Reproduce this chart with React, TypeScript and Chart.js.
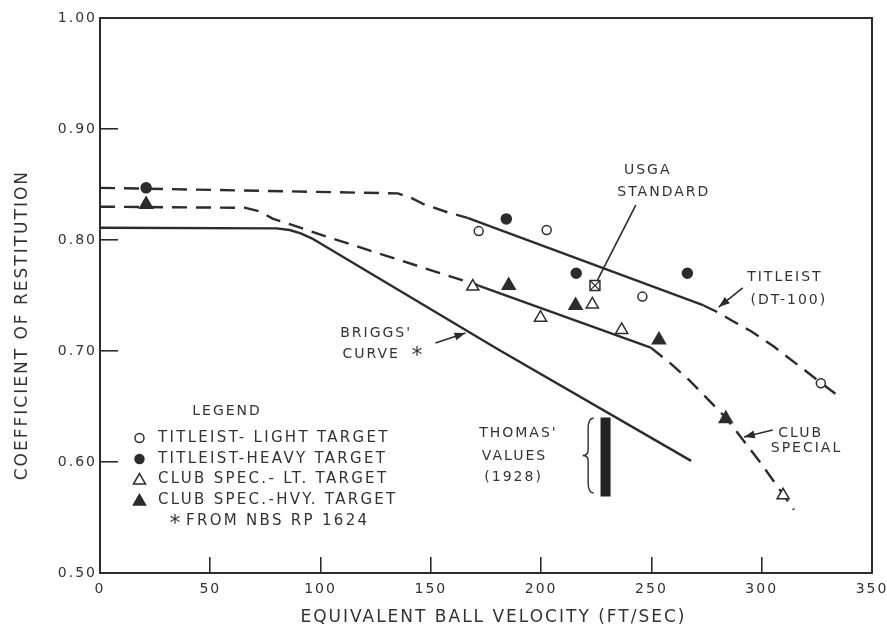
import React, { useEffect, useRef } from "react";
import { Chart, registerables } from "chart.js";

Chart.register(...registerables);

// ---------------- data ----------------
const X_TICK_VALUES = [0, 50, 100, 150, 200, 250, 300, 350];
const Y_TICK_VALUES = [0.5, 0.6, 0.7, 0.8, 0.9, 1.0];

const X_TITLE = "  EQUIVALENT BALL VELOCITY (FT/SEC)";
const Y_TITLE = "COEFFICIENT OF RESTITUTION        ";

// Titleist (DT-100) curve
const TITLEIST_CURVE_X = [0, 135, 141, 147, 157.5, 166.6, 273.7, 280, 286, 295, 305.5, 335];
const TITLEIST_CURVE_Y = [0.847, 0.842, 0.838, 0.832, 0.825, 0.82, 0.741, 0.735, 0.728, 0.718, 0.704, 0.659];
const TITLEIST_SOLID_RANGE = [166.6, 273.7];

// Club Special curve
const CLUB_CURVE_X = [0, 66, 72, 78.5, 89.4, 104.4, 171.6, 249.7, 258, 267, 283.7, 299.6, 314.6];
const CLUB_CURVE_Y = [0.83, 0.829, 0.826, 0.819, 0.812, 0.802, 0.759, 0.703, 0.69, 0.674, 0.64, 0.599, 0.557];
const CLUB_SOLID_RANGE = [171.6, 249.7];

// Briggs' curve
const BRIGGS_X = [0, 80, 86, 91, 96, 180, 268];
const BRIGGS_Y = [0.811, 0.8105, 0.809, 0.806, 0.8015, 0.702, 0.601];

// Thomas' values (1928)
const THOMAS_X = [229.2, 229.2];
const THOMAS_Y = [0.64, 0.569];

// measured points
const TL_LIGHT_X = [171.7, 202.5, 245.9, 326.8];
const TL_LIGHT_Y = [0.808, 0.809, 0.749, 0.671];
const TL_HEAVY_X = [20.9, 184.2, 215.9, 266.3];
const TL_HEAVY_Y = [0.847, 0.819, 0.77, 0.77];
const CS_LIGHT_X = [169, 199.7, 223.2, 236.5, 309.7];
const CS_LIGHT_Y = [0.758, 0.73, 0.742, 0.719, 0.57];
const CS_HEAVY_X = [20.9, 185.3, 215.6, 253.4, 283.7];
const CS_HEAVY_Y = [0.832, 0.759, 0.741, 0.71, 0.639];
const USGA_X = [224.4];
const USGA_Y = [0.759];

const LEGEND_TITLE = "LEGEND";
const LEGEND_LABELS = [
  "TITLEIST- LIGHT TARGET",
  "TITLEIST-HEAVY TARGET",
  "CLUB SPEC.- LT. TARGET",
  "CLUB SPEC.-HVY. TARGET",
  "FROM NBS RP 1624",
];
const LEGEND_SYMBOLS = ["circleOpen", "circleFilled", "triOpen", "triFilled", "star"];

// ---------------- styling / annotation layout ----------------
const INK = "#2c2c2c";
const TXT = "#333333";
const FONT = '"DejaVu Sans", "Liberation Sans", sans-serif';

const NOTE_TEXTS = [
  { text: "USGA", x: 248.3, y: 0.863, align: "center" },
  { text: "STANDARD", x: 255.6, y: 0.843, align: "center" },
  { text: "TITLEIST", x: 310.5, y: 0.766, align: "center" },
  { text: "(DT-100)", x: 312.3, y: 0.746, align: "center" },
  { text: "CLUB", x: 307.5, y: 0.626, align: "left" },
  { text: "SPECIAL", x: 304.1, y: 0.612, align: "left" },
  { text: "BRIGGS'", x: 108.9, y: 0.716, align: "left" },
  { text: "CURVE", x: 109.9, y: 0.697, align: "left" },
  { text: "THOMAS'", x: 189.7, y: 0.626, align: "center" },
  { text: "VALUES", x: 187.9, y: 0.605, align: "center" },
  { text: "(1928)", x: 187.5, y: 0.5865, align: "center" },
];
const NOTE_STARS = [{ x: 143.7, y: 0.698 }];
const NOTE_ARROWS = [
  { x1: 242.9, y1: 0.8315, x2: 225.6, y2: 0.764, head: false },
  { x1: 291.4, y1: 0.7568, x2: 280.5, y2: 0.7396, head: true },
  { x1: 305, y1: 0.6288, x2: 291.9, y2: 0.6225, head: true },
  { x1: 152.1, y1: 0.7072, x2: 165.7, y2: 0.7162, head: true },
];
const BRACE = { x: 223.8, tipX: 218.8, yTop: 0.6396, yBottom: 0.5721 };
const LEGEND_POS = {
  titleX: 57.6,
  titleY: 0.646,
  rowY: [0.6216, 0.6027, 0.5842, 0.5653, 0.5464],
  symbolX: 17.9,
  textX: 26.3,
  starX: 34.0,
  starTextX: 39.0,
};

const pts = (xs: number[], ys: number[]) => xs.map((x, i) => ({ x, y: ys[i] }));

const dashOutside = (range: number[]) => (ctx: any) =>
  ctx.p0.parsed.x >= range[0] - 1e-6 && ctx.p1.parsed.x <= range[1] + 1e-6 ? [] : [15, 9];

function drawTri(ctx: CanvasRenderingContext2D, x: number, y: number, r: number, filled: boolean) {
  ctx.beginPath();
  for (let i = 0; i < 3; i++) {
    const a = -Math.PI / 2 + (i * 2 * Math.PI) / 3;
    const px = x + Math.cos(a) * r;
    const py = y + Math.sin(a) * r;
    if (i === 0) ctx.moveTo(px, py);
    else ctx.lineTo(px, py);
  }
  ctx.closePath();
  ctx.fillStyle = filled ? INK : "#fff";
  ctx.fill();
  ctx.stroke();
}

function drawStar(ctx: CanvasRenderingContext2D, x: number, y: number) {
  ctx.save();
  (ctx as any).letterSpacing = "0px";
  ctx.font = `22px ${FONT}`;
  ctx.textAlign = "center";
  ctx.textBaseline = "alphabetic";
  ctx.fillStyle = TXT;
  ctx.fillText("*", x, y + 9);
  ctx.restore();
}

const decorPlugin = {
  id: "decor",
  beforeDraw(chart: any) {
    const ctx = chart.ctx;
    ctx.save();
    ctx.fillStyle = "#ffffff";
    ctx.fillRect(0, 0, chart.width, chart.height);
    ctx.restore();
    ctx.letterSpacing = "2px";
  },
  afterDraw(chart: any) {
    const ctx: CanvasRenderingContext2D = chart.ctx;
    const sx = chart.scales.x;
    const sy = chart.scales.y;
    const X = (v: number) => sx.getPixelForValue(v);
    const Y = (v: number) => sy.getPixelForValue(v);
    const { left, right, top, bottom } = chart.chartArea;

    ctx.save();
    // frame (top & right sides)
    ctx.strokeStyle = INK;
    ctx.lineWidth = 2;
    ctx.beginPath();
    ctx.moveTo(left, top);
    ctx.lineTo(right, top);
    ctx.lineTo(right, bottom);
    ctx.stroke();

    // annotation texts
    ctx.fillStyle = TXT;
    ctx.font = `14px ${FONT}`;
    (ctx as any).letterSpacing = "2px";
    ctx.textBaseline = "middle";
    NOTE_TEXTS.forEach((t) => {
      ctx.textAlign = t.align as CanvasTextAlign;
      ctx.fillText(t.text, X(t.x), Y(t.y));
    });
    NOTE_STARS.forEach((s) => drawStar(ctx, X(s.x), Y(s.y)));

    // arrows
    ctx.strokeStyle = INK;
    ctx.fillStyle = INK;
    ctx.lineWidth = 1.6;
    NOTE_ARROWS.forEach((a) => {
      const x1 = X(a.x1), y1 = Y(a.y1), x2 = X(a.x2), y2 = Y(a.y2);
      ctx.beginPath();
      ctx.moveTo(x1, y1);
      ctx.lineTo(x2, y2);
      ctx.stroke();
      if (a.head) {
        const ang = Math.atan2(y2 - y1, x2 - x1);
        const len = 11, w = 4;
        ctx.beginPath();
        ctx.moveTo(x2, y2);
        ctx.lineTo(x2 - len * Math.cos(ang) + w * Math.sin(ang), y2 - len * Math.sin(ang) - w * Math.cos(ang));
        ctx.lineTo(x2 - len * Math.cos(ang) - w * Math.sin(ang), y2 - len * Math.sin(ang) + w * Math.cos(ang));
        ctx.closePath();
        ctx.fill();
      }
    });

    // brace
    {
      const bx = X(BRACE.x), tx = X(BRACE.tipX);
      const y1 = Y(BRACE.yTop), y2 = Y(BRACE.yBottom);
      const w = bx - tx;
      const mx = bx - w / 2;
      const ym = (y1 + y2) / 2;
      ctx.lineWidth = 1.4;
      ctx.beginPath();
      ctx.moveTo(bx, y1);
      ctx.quadraticCurveTo(mx, y1, mx, y1 + w);
      ctx.lineTo(mx, ym - w / 2);
      ctx.quadraticCurveTo(mx, ym, tx, ym);
      ctx.quadraticCurveTo(mx, ym, mx, ym + w / 2);
      ctx.lineTo(mx, y2 - w);
      ctx.quadraticCurveTo(mx, y2, bx, y2);
      ctx.stroke();
    }

    // legend
    ctx.fillStyle = TXT;
    ctx.textBaseline = "middle";
    ctx.textAlign = "center";
    ctx.font = `14px ${FONT}`;
    (ctx as any).letterSpacing = "2px";
    ctx.fillText(LEGEND_TITLE, X(LEGEND_POS.titleX), Y(LEGEND_POS.titleY));
    ctx.font = `15px ${FONT}`;
    (ctx as any).letterSpacing = "2.3px";
    ctx.textAlign = "left";
    LEGEND_LABELS.forEach((label, i) => {
      const y = Y(LEGEND_POS.rowY[i]);
      const sym = LEGEND_SYMBOLS[i];
      const symX = X(LEGEND_POS.symbolX);
      ctx.strokeStyle = INK;
      ctx.lineWidth = 1.5;
      if (sym === "circleOpen" || sym === "circleFilled") {
        ctx.beginPath();
        ctx.arc(symX, y, 4.5, 0, Math.PI * 2);
        ctx.fillStyle = sym === "circleFilled" ? INK : "#fff";
        ctx.fill();
        ctx.stroke();
      } else if (sym === "triOpen" || sym === "triFilled") {
        drawTri(ctx, symX, y + 1, 7, sym === "triFilled");
      } else {
        drawStar(ctx, X(LEGEND_POS.starX), y);
      }
      ctx.fillStyle = TXT;
      const tx = sym === "star" ? X(LEGEND_POS.starTextX) : X(LEGEND_POS.textX);
      ctx.fillText(label, tx, y);
    });
    ctx.restore();
  },
};

export default function App() {
  const ref = useRef<HTMLCanvasElement>(null);
  useEffect(() => {
    document.body.style.margin = "0";
    const markerBase = { showLine: false, pointBorderColor: INK, pointBorderWidth: 1.5 };
    const curveBase = {
      showLine: true,
      pointRadius: 0,
      borderColor: INK,
      borderWidth: 2.4,
      fill: false,
      tension: 0,
      borderJoinStyle: "round" as const,
    };
    const chart = new Chart(ref.current as HTMLCanvasElement, {
      type: "scatter",
      data: {
        datasets: [
          { ...markerBase, label: "USGA standard (cross)", data: pts(USGA_X, USGA_Y), pointStyle: "crossRot", pointRadius: 6.5, pointBackgroundColor: "#fff", pointBorderWidth: 1.3 },
          { ...markerBase, label: "USGA standard", data: pts(USGA_X, USGA_Y), pointStyle: "rect", pointRadius: 7, pointBackgroundColor: "#fff", pointBorderWidth: 1.5 },
          { ...markerBase, label: "Titleist - light target", data: pts(TL_LIGHT_X, TL_LIGHT_Y), pointStyle: "circle", pointRadius: 4.5, pointBackgroundColor: "#fff" },
          { ...markerBase, label: "Titleist - heavy target", data: pts(TL_HEAVY_X, TL_HEAVY_Y), pointStyle: "circle", pointRadius: 5, pointBackgroundColor: INK },
          { ...markerBase, label: "Club spec. - lt. target", data: pts(CS_LIGHT_X, CS_LIGHT_Y), pointStyle: "triangle", pointRadius: 7, pointBackgroundColor: "#fff" },
          { ...markerBase, label: "Club spec. - hvy. target", data: pts(CS_HEAVY_X, CS_HEAVY_Y), pointStyle: "triangle", pointRadius: 7.5, pointBackgroundColor: INK },
          { ...curveBase, label: "Thomas' values (1928)", data: pts(THOMAS_X, THOMAS_Y), borderWidth: 10, borderCapStyle: "butt" as const, borderJoinStyle: "bevel" as const, borderColor: "#222" },
          { ...curveBase, label: "Titleist (DT-100)", data: pts(TITLEIST_CURVE_X, TITLEIST_CURVE_Y), segment: { borderDash: dashOutside(TITLEIST_SOLID_RANGE) } },
          { ...curveBase, label: "Club Special", data: pts(CLUB_CURVE_X, CLUB_CURVE_Y), segment: { borderDash: dashOutside(CLUB_SOLID_RANGE) } },
          { ...curveBase, label: "Briggs' curve", data: pts(BRIGGS_X, BRIGGS_Y) },
        ] as any,
      },
      options: {
        animation: false,
        responsive: true,
        maintainAspectRatio: false,
        events: [],
        layout: { padding: { top: 18, right: 15, bottom: 0, left: 0 } },
        plugins: { legend: { display: false }, tooltip: { enabled: false } },
        scales: {
          x: {
            type: "linear",
            min: 0,
            max: 350,
            afterBuildTicks: (s: any) => {
              s.ticks = X_TICK_VALUES.map((v) => ({ value: v }));
            },
            afterFit: (s: any) => {
              s.height = 55;
              s.paddingLeft = 0;
              s.paddingRight = 0;
            },
            ticks: {
              autoSkip: false,
              maxRotation: 0,
              padding: 24,
              color: TXT,
              font: { family: FONT, size: 14 },
              callback: (v: any) => String(v),
            },
            grid: { drawOnChartArea: false, drawTicks: true, tickLength: -16, color: INK, lineWidth: 1.6 },
            border: { color: INK, width: 2 },
            title: {
              display: true,
              text: X_TITLE,
              color: TXT,
              font: { family: FONT, size: 17 },
              padding: { top: 0, bottom: 0 },
            },
          },
          y: {
            type: "linear",
            min: 0.5,
            max: 1.0,
            afterBuildTicks: (s: any) => {
              s.ticks = Y_TICK_VALUES.map((v) => ({ value: v }));
            },
            afterFit: (s: any) => {
              s.width = 100;
              s.paddingTop = 0;
              s.paddingBottom = 0;
            },
            ticks: {
              padding: 21,
              color: TXT,
              font: { family: FONT, size: 14 },
              callback: (v: any) => Number(v).toFixed(2),
            },
            grid: { drawOnChartArea: false, drawTicks: true, tickLength: -18, color: INK, lineWidth: 1.6 },
            border: { color: INK, width: 2 },
            title: {
              display: true,
              text: Y_TITLE,
              color: TXT,
              font: { family: FONT, size: 17 },
              padding: { top: 12, bottom: 0 },
            },
          },
        },
      } as any,
      plugins: [decorPlugin],
    });
    return () => chart.destroy();
  }, []);
  return (
    <div style={{ width: 887, height: 628, position: "relative" }}>
      <canvas ref={ref} />
    </div>
  );
}
